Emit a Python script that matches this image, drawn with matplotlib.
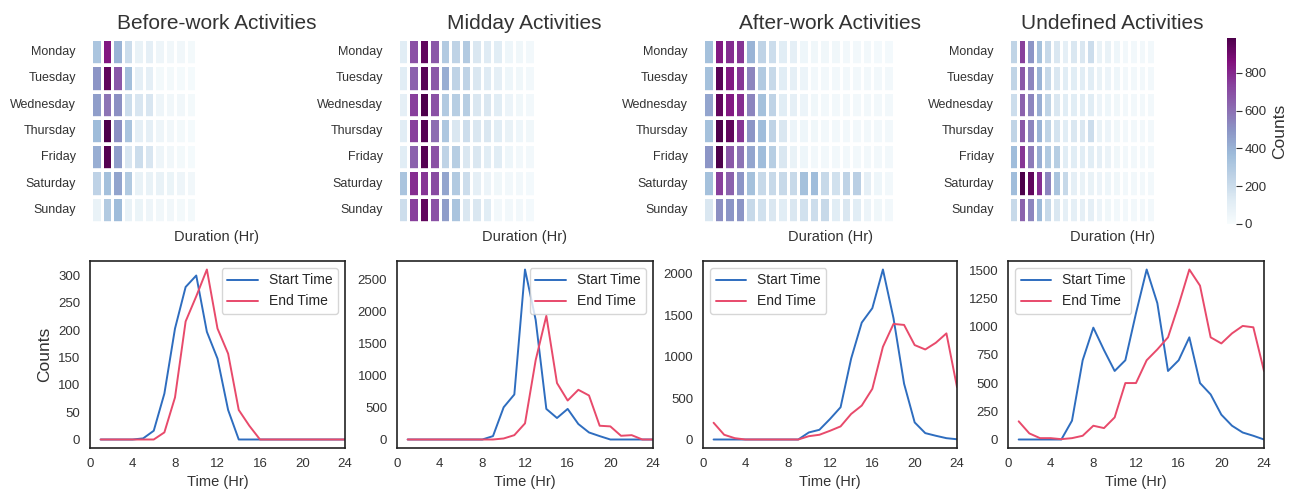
import matplotlib
matplotlib.use("Agg")
import matplotlib.pyplot as plt
from matplotlib.ticker import MultipleLocator
import numpy as np
import seaborn as sns

sns.set_style("white")
plt.rcParams["font.family"] = ["Liberation Sans", "DejaVu Sans"]

days = ["Monday", "Tuesday", "Wednesday", "Thursday", "Friday", "Saturday", "Sunday"]
titles = ["Before-work Activities", "Midday Activities", "After-work Activities", "Undefined Activities"]
hours = list(range(1, 25))

# heatmap counts: rows = day of week, columns = duration bins (hr)
before_work = [
    [36, 94, 44, 22, 9, 11, 6, 4, 4, 3, 0, 0, 0, 0, 0, 0, 0, 0, 0, 0, 0, 0, 0, 0],
    [55, 105, 75, 39, 11, 11, 3, 3, 2, 2, 0, 0, 0, 0, 0, 0, 0, 0, 0, 0, 0, 0, 0, 0],
    [52, 66, 57, 22, 17, 17, 6, 4, 4, 3, 0, 0, 0, 0, 0, 0, 0, 0, 0, 0, 0, 0, 0, 0],
    [41, 110, 57, 36, 11, 11, 6, 4, 3, 2, 0, 0, 0, 0, 0, 0, 0, 0, 0, 0, 0, 0, 0, 0],
    [46, 108, 52, 17, 22, 17, 6, 4, 3, 2, 0, 0, 0, 0, 0, 0, 0, 0, 0, 0, 0, 0, 0, 0],
    [28, 39, 50, 33, 9, 9, 9, 7, 6, 4, 0, 0, 0, 0, 0, 0, 0, 0, 0, 0, 0, 0, 0, 0],
    [9, 33, 41, 9, 7, 6, 4, 4, 3, 3, 0, 0, 0, 0, 0, 0, 0, 0, 0, 0, 0, 0, 0, 0],
]
midday = [
    [72, 420, 570, 408, 180, 150, 180, 90, 78, 72, 30, 24, 18, 0, 0, 0, 0, 0, 0, 0, 0, 0, 0, 0],
    [72, 390, 582, 408, 252, 150, 150, 90, 78, 60, 30, 24, 18, 0, 0, 0, 0, 0, 0, 0, 0, 0, 0, 0],
    [60, 450, 600, 420, 180, 168, 168, 90, 90, 72, 36, 24, 18, 0, 0, 0, 0, 0, 0, 0, 0, 0, 0, 0],
    [72, 450, 588, 372, 192, 90, 120, 90, 90, 72, 48, 30, 24, 0, 0, 0, 0, 0, 0, 0, 0, 0, 0, 0],
    [72, 390, 588, 420, 150, 168, 90, 90, 72, 72, 30, 18, 18, 0, 0, 0, 0, 0, 0, 0, 0, 0, 0, 0],
    [198, 480, 468, 432, 270, 180, 120, 60, 36, 24, 18, 18, 12, 0, 0, 0, 0, 0, 0, 0, 0, 0, 0, 0],
    [120, 450, 570, 420, 288, 198, 90, 90, 72, 18, 18, 18, 12, 0, 0, 0, 0, 0, 0, 0, 0, 0, 0, 0],
]
after_work = [
    [245, 595, 560, 546, 280, 175, 140, 84, 70, 35, 28, 28, 28, 21, 21, 21, 14, 14, 0, 0, 0, 0, 0, 0],
    [245, 679, 595, 546, 385, 210, 154, 84, 70, 42, 21, 21, 21, 21, 21, 21, 21, 21, 0, 0, 0, 0, 0, 0],
    [315, 665, 595, 560, 385, 245, 175, 84, 70, 42, 28, 21, 21, 21, 21, 21, 21, 21, 0, 0, 0, 0, 0, 0],
    [245, 700, 665, 546, 350, 259, 175, 105, 42, 35, 28, 21, 21, 21, 21, 21, 21, 21, 0, 0, 0, 0, 0, 0],
    [350, 700, 476, 420, 315, 259, 196, 105, 56, 35, 21, 21, 21, 21, 21, 21, 21, 21, 0, 0, 0, 0, 0, 0],
    [245, 525, 455, 350, 245, 154, 154, 154, 154, 245, 259, 154, 126, 175, 189, 70, 35, 21, 0, 0, 0, 0, 0, 0],
    [105, 364, 350, 350, 154, 126, 105, 84, 105, 126, 140, 154, 84, 105, 84, 42, 28, 21, 0, 0, 0, 0, 0, 0],
]
undefined = [
    [246, 739, 493, 345, 217, 148, 99, 148, 148, 197, 79, 79, 49, 30, 30, 30, 30, 0, 0, 0, 0, 0, 0, 0],
    [246, 670, 542, 394, 217, 148, 118, 118, 118, 118, 79, 59, 49, 30, 30, 30, 30, 0, 0, 0, 0, 0, 0, 0],
    [197, 640, 542, 414, 246, 148, 118, 118, 118, 118, 59, 49, 39, 30, 30, 30, 30, 0, 0, 0, 0, 0, 0, 0],
    [246, 670, 542, 394, 246, 167, 118, 148, 148, 197, 79, 59, 39, 30, 30, 30, 30, 0, 0, 0, 0, 0, 0, 0],
    [364, 768, 571, 414, 296, 276, 118, 118, 118, 118, 99, 69, 39, 30, 30, 30, 30, 0, 0, 0, 0, 0, 0, 0],
    [364, 985, 936, 788, 542, 325, 217, 99, 79, 79, 59, 49, 39, 30, 30, 30, 30, 0, 0, 0, 0, 0, 0, 0],
    [217, 640, 542, 374, 217, 148, 99, 99, 99, 99, 59, 39, 30, 30, 30, 30, 30, 0, 0, 0, 0, 0, 0, 0],
]

# hourly start / end counts
bw_start = [0, 0, 0, 0, 2, 16, 84, 203, 279, 300, 197, 148, 54, 0, 0, 0, 0, 0, 0, 0, 0, 0, 0, 0]
bw_end = [0, 0, 0, 0, 0, 0, 13, 77, 216, 262, 311, 203, 157, 54, 25, 0, 0, 0, 0, 0, 0, 0, 0, 0]
md_start = [0, 0, 0, 0, 0, 0, 0, 0, 53, 504, 704, 2657, 1870, 478, 336, 478, 242, 110, 53, 0, 0, 0, 0, 0]
md_end = [0, 0, 0, 0, 0, 0, 0, 0, 0, 16, 68, 252, 1240, 1933, 882, 609, 777, 688, 215, 205, 58, 68, 0, 0]
aw_start = [0, 0, 0, 0, 0, 0, 0, 0, 0, 85, 117, 247, 389, 976, 1409, 1583, 2049, 1462, 672, 206, 77, 45, 16, 3]
aw_end = [202, 57, 16, 0, 0, 0, 0, 0, 0, 40, 57, 105, 158, 308, 409, 611, 1117, 1393, 1381, 1138, 1085, 1166, 1279, 632]
ud_start = [0, 0, 0, 0, 0, 167, 702, 991, 792, 607, 702, 1119, 1506, 1208, 607, 702, 905, 500, 399, 220, 122, 62, 33, 0]
ud_end = [161, 54, 12, 12, 3, 12, 33, 122, 101, 196, 500, 500, 702, 798, 905, 1193, 1506, 1363, 905, 851, 940, 1006, 994, 607]

heat_data = [before_work, midday, after_work, undefined]
start_series = [bw_start, md_start, aw_start, ud_start]
end_series = [bw_end, md_end, aw_end, ud_end]
y_steps = [50, 500, 500, 250]
legend_locs = ["upper right", "upper right", "upper left", "upper left"]

W, H = 1296, 492
fig = plt.figure(figsize=(W / 100, H / 100), dpi=100)


def px_axes(x0, x1, y0, y1):
    # axes from pixel box (top-left origin)
    return fig.add_axes([x0 / W, 1 - y1 / H, (x1 - x0) / W, (y1 - y0) / H])


heat_boxes = [(91, 343), (398, 650), (703, 957), (1009, 1215)]
line_boxes = [(90, 345), (397, 653), (703, 957), (1008, 1264)]
text_col = "#333333"

for i in range(4):
    ax = px_axes(heat_boxes[i][0], heat_boxes[i][1], 39, 223)
    data = np.array(heat_data[i])
    empty = data == 0  # empty bins are left blank
    if i == 3:
        cax = px_axes(1227, 1236, 38, 224)
        sns.heatmap(data, ax=ax, mask=empty, cmap="BuPu", vmin=0, linewidths=1.0, linecolor="white",
                    xticklabels=False, yticklabels=days, cbar=True, cbar_ax=cax)
        cax.set_ylabel("Counts", fontsize=12.5, color=text_col)
        cax.yaxis.set_major_locator(MultipleLocator(200))
        cax.tick_params(length=4, width=0.8, labelsize=9.5, labelcolor=text_col, color=text_col, pad=2)
    else:
        sns.heatmap(data, ax=ax, mask=empty, cmap="BuPu", vmin=0, linewidths=1.0, linecolor="white",
                    xticklabels=False, yticklabels=days, cbar=False)
    # extra white gap between rows
    ax.hlines(np.arange(0, 8), 0, data.shape[1], colors="white", linewidth=2.6)
    ax.set_yticklabels(days, rotation=0, fontsize=9, color=text_col)
    ax.tick_params(axis="y", length=0, pad=11)
    ax.set_xlabel("Duration (Hr)", fontsize=10.5, color=text_col, labelpad=5)
    ax.set_title(titles[i], fontsize=15, color=text_col, pad=7)

for i in range(4):
    ax = px_axes(line_boxes[i][0], line_boxes[i][1], 261, 448)
    ax.plot(hours, start_series[i], color="#2e6dbf", lw=1.4, label="Start Time")
    ax.plot(hours, end_series[i], color="#e84a6b", lw=1.4, label="End Time")
    ax.set_xlim(0, 24)
    ax.xaxis.set_major_locator(MultipleLocator(4))
    ax.yaxis.set_major_locator(MultipleLocator(y_steps[i]))
    ax.tick_params(length=0, labelsize=9.5, labelcolor=text_col, pad=7)
    for sp in ax.spines.values():
        sp.set_color("#222222")
        sp.set_linewidth(1.2)
    ax.set_xlabel("Time (Hr)", fontsize=10.5, color=text_col, labelpad=4)
    if i == 0:
        ax.set_ylabel("Counts", fontsize=12.5, color=text_col)
    ax.legend(loc=legend_locs[i], fontsize=10, frameon=True, handlelength=2.2)

fig.savefig("out.png", dpi=100)
